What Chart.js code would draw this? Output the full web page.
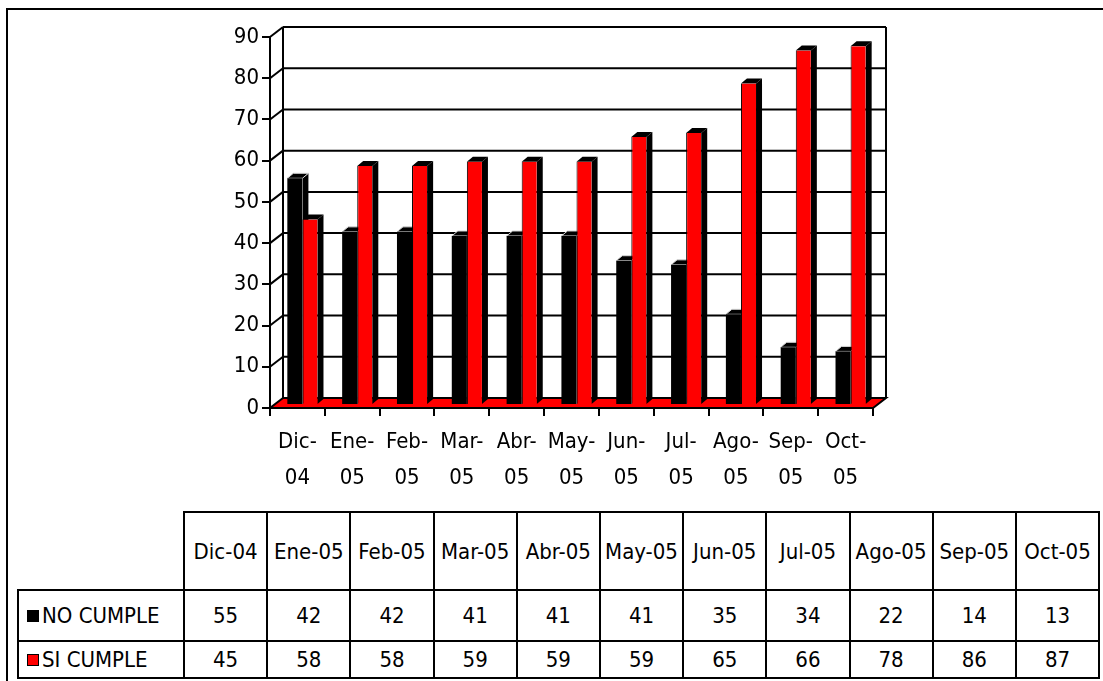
<!DOCTYPE html>
<html>
<head>
<meta charset="utf-8">
<script src="https://cdn.jsdelivr.net/npm/chart.js@4/dist/chart.umd.min.js"></script>
<style>
  html, body { margin:0; padding:0; background:#fff; }
  body { width:1103px; height:681px; position:relative; overflow:hidden; font-family:"DejaVu Sans Condensed","DejaVu Sans",sans-serif; }
  #frame { position:absolute; left:6px; top:8px; width:1110px; height:700px; border-left:2px solid #000; border-top:2px solid #000; box-sizing:border-box; }
  #wrap { position:absolute; left:0; top:0; width:1103px; height:500px; }
  #dt { position:absolute; left:17px; top:511px; border-collapse:collapse; table-layout:fixed; font-size:22px; color:#000; }
  #dt td, #dt th { border:2px solid #000; text-align:center; font-weight:normal; padding:0; }
  #dt th.corner { border-top:none; border-left:none; }
  #dt td.leg { text-align:left; padding-left:8px; white-space:nowrap; }
  .sw { display:inline-block; width:10px; height:10px; border:1px solid #000; margin-right:3px; vertical-align:1px; }
</style>
</head>
<body>
<div id="frame"></div>
<div id="wrap"><canvas id="c" width="1103" height="500"></canvas></div>
<table id="dt"></table>
<script>
const categories = ["Dic-04","Ene-05","Feb-05","Mar-05","Abr-05","May-05","Jun-05","Jul-05","Ago-05","Sep-05","Oct-05"];
const axisLabels = [["Dic-","04"],["Ene-","05"],["Feb-","05"],["Mar-","05"],["Abr-","05"],["May-","05"],["Jun-","05"],["Jul-","05"],["Ago-","05"],["Sep-","05"],["Oct-","05"]];
const noCumple = [55,42,42,41,41,41,35,34,22,14,13];
const siCumple = [45,58,58,59,59,59,65,66,78,86,87];
const seriesNames = ["NO CUMPLE","SI CUMPLE"];
const seriesColors = ["#000000","#ff0000"];
const yTicks = [0,10,20,30,40,50,60,70,80,90];

const FAM = '"DejaVu Sans Condensed","DejaVu Sans",sans-serif';
const WX = 13, WY = 10;   // back wall offset
const BX = 5, BY = 3;     // bar plane offset
const DX = 6, DY = 5;     // bar depth

function seg(ctx, x1, y1, x2, y2){ ctx.beginPath(); ctx.moveTo(x1,y1); ctx.lineTo(x2,y2); ctx.stroke(); }
function poly(ctx, pts){ ctx.beginPath(); ctx.moveTo(pts[0][0],pts[0][1]); for(let i=1;i<pts.length;i++) ctx.lineTo(pts[i][0],pts[i][1]); ctx.closePath(); }

const depth3d = {
  id:'depth3d',
  beforeDatasetsDraw(chart){
    const ctx = chart.ctx, a = chart.chartArea, y = chart.scales.y;
    ctx.save();
    poly(ctx, [[a.left,a.bottom],[a.right,a.bottom],[a.right+WX,a.bottom-WY],[a.left+WX,a.bottom-WY]]);
    ctx.fillStyle = '#ff0000'; ctx.fill();
    ctx.lineWidth = 2; ctx.strokeStyle = '#000'; ctx.stroke();
    y.ticks.forEach(t => {
      if (t.value === 0) return;
      const py = y.getPixelForValue(t.value);
      seg(ctx, a.left, py, a.left+WX, py-WY);
      seg(ctx, a.left+WX, py-WY, a.right+WX, py-WY);
    });
    seg(ctx, a.left+WX, a.top-WY, a.left+WX, a.bottom-WY);
    seg(ctx, a.right+WX, a.top-WY, a.right+WX, a.bottom-WY);
    ctx.restore();
    ctx.save();
    ctx.translate(BX, -BY);
    chart.data.datasets.forEach((ds, di) => {
      const meta = chart.getDatasetMeta(di);
      meta.data.forEach(el => {
        const p = el.getProps(['x','y','base','width'], true);
        const x1 = p.x - p.width/2, x2 = p.x + p.width/2, top = p.y, base = p.base;
        ctx.fillStyle = '#000';
        poly(ctx, [[x2,top],[x2+DX,top-DY],[x2+DX,base-DY],[x2,base]]);
        ctx.fill();
        poly(ctx, [[x1,top],[x2,top],[x2+DX,top-DY],[x1+DX,top-DY]]);
        ctx.fill();
        if (di === 0) {
          ctx.strokeStyle = '#d8d8d8'; ctx.lineWidth = 1;
          poly(ctx, [[x1,top],[x2,top],[x2+DX,top-DY],[x1+DX,top-DY]]);
          ctx.stroke();
          seg(ctx, x2, top, x2, base);
        }
      });
    });
  },
  afterDatasetsDraw(chart){ chart.ctx.restore(); }
};

new Chart(document.getElementById('c'), {
  type:'bar',
  data:{
    labels: axisLabels,
    datasets:[
      {label:seriesNames[0], data:noCumple, backgroundColor:seriesColors[0], borderWidth:0},
      {label:seriesNames[1], data:siCumple, backgroundColor:seriesColors[1], borderColor:'#000', borderWidth:{left:1,right:0,top:0,bottom:0}}
    ]
  },
  options:{
    responsive:false, animation:false,
    layout:{padding:{left:0, top:37, right:230, bottom:0}},
    datasets:{bar:{categoryPercentage:0.55, barPercentage:1.0}},
    plugins:{legend:{display:false}, tooltip:{enabled:false}},
    scales:{
      x:{
        offset:true,
        grid:{display:true, drawOnChartArea:false, drawTicks:true, tickLength:8, color:'#000', lineWidth:2, offset:true},
        border:{display:true, color:'#000', width:2},
        ticks:{color:'#000', font:{family:FAM, size:22, lineHeight:1.6}, padding:9, maxRotation:0, autoSkip:false},
        afterFit(s){ s.height = 92; }
      },
      y:{
        min:0, max:90,
        afterBuildTicks(s){ s.ticks = yTicks.map(v => ({value:v})); },
        grid:{display:true, drawOnChartArea:false, drawTicks:true, tickLength:8, color:'#000', lineWidth:2},
        border:{display:true, color:'#000', width:2},
        ticks:{color:'#000', font:{family:FAM, size:22}, padding:3},
        afterFit(s){ s.width = 270; }
      }
    }
  },
  plugins:[depth3d]
});

(function(){
  const t = document.getElementById('dt');
  const colW = 83.2, legW = 166;
  let cg = '<colgroup><col style="width:'+legW+'px">' + categories.map(()=>'<col style="width:'+colW+'px">').join('') + '</colgroup>';
  let h = '<tr style="height:78px"><th class="corner"></th>' + categories.map(c=>'<th>'+c+'</th>').join('') + '</tr>';
  const rows = [noCumple, siCumple];
  const heights = [51, 37];
  rows.forEach((r, i) => {
    h += '<tr style="height:'+heights[i]+'px"><td class="leg"><span class="sw" style="background:'+seriesColors[i]+'"></span>'+seriesNames[i]+'</td>' + r.map(v=>'<td>'+v+'</td>').join('') + '</tr>';
  });
  t.innerHTML = cg + h;
})();
</script>
</body>
</html>
